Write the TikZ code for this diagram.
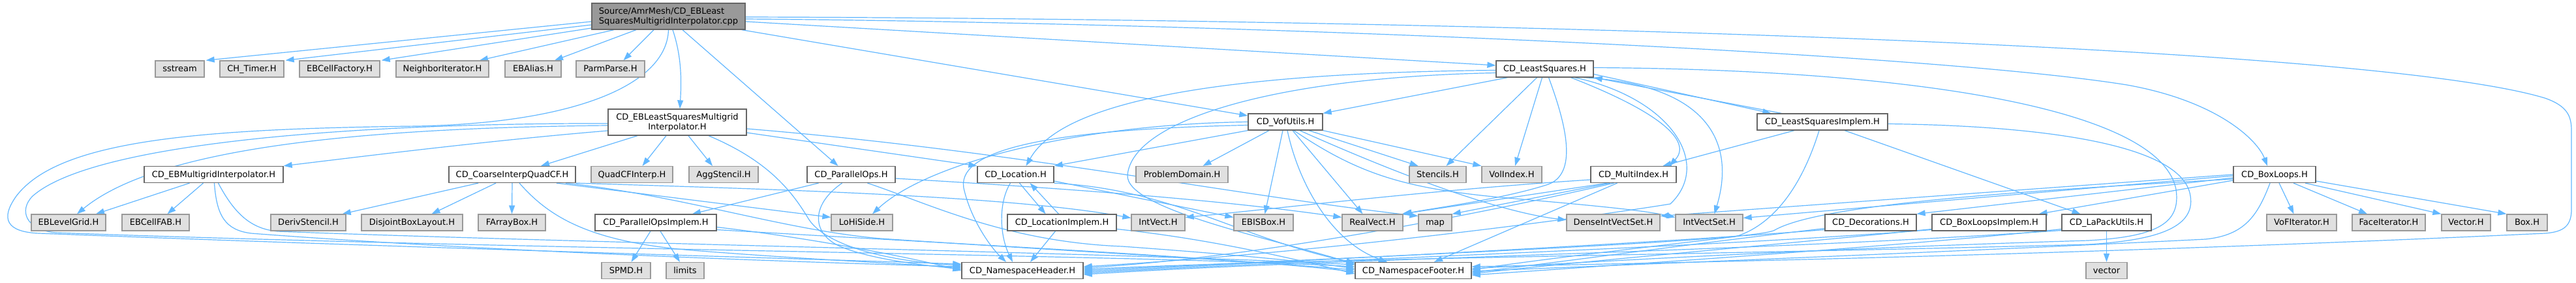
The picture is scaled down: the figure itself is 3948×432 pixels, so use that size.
\documentclass[tikz,border=0pt]{standalone}
\usepackage{fontspec}
\setmainfont{DejaVu Sans}
\usetikzlibrary{arrows.meta}
\definecolor{edgec}{HTML}{63B8FF}
\definecolor{wborder}{HTML}{666666}
\definecolor{gfill}{HTML}{E0E0E0}
\definecolor{gborder}{HTML}{999999}
\definecolor{mfill}{HTML}{999999}
\pgfdeclarelayer{edgelayer}
\pgfsetlayers{edgelayer,main}
\tikzset{
  base/.style={rectangle, inner sep=0pt, line width=1.3pt, font=\fontsize{13pt}{15pt}\selectfont, text=black},
  wn/.style={base, draw=wborder, fill=white},
  gn/.style={base, draw=gborder, fill=gfill},
  mn/.style={base, draw=wborder, fill=mfill},
  one/.style={minimum height=25pt, text height=9.5pt, text depth=1pt},
  e/.style={draw=edgec, line width=1.2pt, -{Triangle[length=13pt,width=9pt]}},
}
\newcommand\mkw[5]{\node[wn,one,minimum width=#4pt] (#1) at (#2,#3) {#5};}
\newcommand\mkg[5]{\node[gn,one,minimum width=#4pt] (#1) at (#2,#3) {#5};}
\begin{document}
\begin{tikzpicture}[x=1pt,y=-1pt]
\useasboundingbox (0,0) rectangle (3948,432);
% nodes
\node[mn, minimum width=235pt, minimum height=40pt, align=left] (M) at (1024.5,25) {Source/AmrMesh/CD\_EBLeast\\SquaresMultigridInterpolator.cpp};
\mkg{sstream}{275.5}{105.5}{75}{sstream}
\mkg{chtimer}{386}{105.5}{98}{CH\_Timer.H}
\mkg{ebcellfactory}{520.5}{105.5}{123}{EBCellFactory.H}
\mkg{neighbor}{678}{105.5}{142}{NeighborIterator.H}
\mkg{ebalias}{817}{105.5}{86}{EBAlias.H}
\mkg{parmparse}{935.5}{105.5}{105}{ParmParse.H}
\mkw{LS}{2367.5}{105.5}{149}{CD\_LeastSquares.H}
\node[wn, minimum width=212pt, minimum height=40pt, align=center] (ELS) at (1038,187) {CD\_EBLeastSquaresMultigrid\\Interpolator.H};
\mkw{VU}{1970}{186.5}{114}{CD\_VofUtils.H}
\mkw{LSI}{2793}{186.5}{200}{CD\_LeastSquaresImplem.H}
\mkw{EMI}{327.5}{267}{213}{CD\_EBMultigridInterpolator.H}
\mkw{CIQ}{785}{267}{194}{CD\_CoarseInterpQuadCF.H}
\mkg{quadcf}{968.5}{267}{125}{QuadCFInterp.H}
\mkg{aggst}{1109}{267}{106}{AggStencil.H}
\mkw{PO}{1304.5}{267}{135}{CD\_ParallelOps.H}
\mkw{LOC}{1556.5}{267}{117}{CD\_Location.H}
\mkg{probdom}{1811.5}{267}{141}{ProblemDomain.H}
\mkg{stencils}{2203.5}{267}{87}{Stencils.H}
\mkg{volindex}{2317}{267}{92}{VolIndex.H}
\mkw{MI}{2503.5}{267}{131}{CD\_MultiIndex.H}
\mkw{BL}{3486}{267}{126}{CD\_BoxLoops.H}
\mkg{eblevelgrid}{105}{340.5}{114}{EBLevelGrid.H}
\mkg{ebcellfab}{238.5}{340.5}{103}{EBCellFAB.H}
\mkg{derivst}{472.5}{340.5}{115}{DerivStencil.H}
\mkg{dbl}{631.5}{340.5}{155}{DisjointBoxLayout.H}
\mkg{farraybox}{784.5}{340.5}{103}{FArrayBox.H}
\mkw{POI}{1005}{340.5}{186}{CD\_ParallelOpsImplem.H}
\mkg{lohiside}{1321}{340.5}{94}{LoHiSide.H}
\mkw{LI}{1627.5}{340.5}{167}{CD\_LocationImplem.H}
\mkg{intvect}{1775}{340.5}{82}{IntVect.H}
\mkg{ebisbox}{1936.5}{340.5}{91}{EBISBox.H}
\mkg{realvect}{2103.5}{340.5}{93}{RealVect.H}
\mkg{map}{2199.5}{340.5}{51}{map}
\mkg{dense}{2472.5}{340.5}{143}{DenseIntVectSet.H}
\mkg{ivs}{2619.5}{340.5}{103}{IntVectSet.H}
\mkw{DEC}{2867}{340.5}{140}{CD\_Decorations.H}
\mkw{BLI}{3048.5}{340.5}{175}{CD\_BoxLoopsImplem.H}
\mkw{LAP}{3228.5}{340.5}{137}{CD\_LaPackUtils.H}
\mkg{vofit}{3527.5}{340.5}{107}{VoFIterator.H}
\mkg{faceit}{3661}{340.5}{112}{FaceIterator.H}
\mkg{vectorH}{3779.5}{340.5}{75}{Vector.H}
\mkg{boxH}{3873}{340.5}{62}{Box.H}
\mkg{spmd}{959.5}{414}{75}{SPMD.H}
\mkg{limits}{1050}{414}{58}{limits}
\mkw{HDR}{1567}{414}{186}{CD\_NamespaceHeader.H}
\mkw{FTR}{2166}{414}{178}{CD\_NamespaceFooter.H}
\mkg{vectorstd}{3228.5}{414}{63}{vector}
\begin{pgfonlayer}{edgelayer}
\fill[white] (0,0) rectangle (3948,432);
% main
\draw[e] ([yshift=-8pt]M.west) -- ([xshift=2pt]sstream.north east);
\draw[e] ([yshift=-13pt]M.west) -- ([xshift=2pt]chtimer.north east);
\draw[e] ([yshift=-18pt]M.west) -- ([xshift=2pt]ebcellfactory.north east);
\draw[e] ([xshift=-83.5pt]M.south) -- ([xshift=57pt]neighbor.north);
\draw[e] ([xshift=-49.5pt]M.south) -- ([xshift=33pt]ebalias.north);
\draw[e] ([xshift=-22.5pt]M.south) -- ([xshift=20pt]parmparse.north);
\draw[e] (M.south) .. controls (1022,130) and (880,188) .. (640,193) .. controls (300,197) and (90,215) .. (25,300) .. controls (0,335) and (10,355) .. (60,357) .. controls (600,378) and (1200,395) .. ([yshift=10pt]HDR.west);
\draw[e] ([xshift=6.5pt]M.south) .. controls (1046,90) and (1044,130) .. ([xshift=4pt]ELS.north);
\draw[e] ([xshift=21.5pt]M.south) -- ([xshift=-20pt]PO.north);
\draw[e] ([xshift=-6pt]M.south east) -- ([yshift=9.5pt]VU.west);
\draw[e] ([yshift=-8pt]M.east) -- ([yshift=5.5pt]LS.west);
\draw[e] ([yshift=-4pt]M.east) .. controls (1900,35) and (2950,80) .. (3260,130) .. controls (3400,155) and (3460,215) .. ([xshift=-11pt]BL.north);
\draw[e] ([yshift=-1pt]M.east) .. controls (2000,28) and (3600,60) .. (3900,150) .. controls (3935,162) and (3941,178) .. (3941,200) -- (3941,320) .. controls (3941,345) and (3930,355) .. (3900,357) .. controls (3300,385) and (2700,400) .. ([yshift=6pt]FTR.east);
% ELS
\draw[e] ([yshift=-5pt]ELS.west) .. controls (500,196) and (230,235) .. ([xshift=13pt]eblevelgrid.north);
\draw[e] ([yshift=-2pt]ELS.west) .. controls (600,188) and (150,212) .. (50,300) .. controls (28,322) and (40,352) .. (85,356) .. controls (800,382) and (1750,390) .. ([yshift=6pt]FTR.west);
\draw[e] ([yshift=-13pt]ELS.west) .. controls (750,215) and (550,240) .. (EMI.north east);
\draw[e] ([xshift=-61pt]ELS.south) -- ([xshift=44pt]CIQ.north);
\draw[e] ([xshift=-17pt]ELS.south) -- ([xshift=16pt]quadcf.north);
\draw[e] ([xshift=17pt]ELS.south) -- ([xshift=-17pt]aggst.north);
\draw[e] ([xshift=48pt]ELS.south) .. controls (1175,245) and (1212,290) .. (1238,333) .. controls (1262,375) and (1360,400) .. ([yshift=8pt]HDR.west);
\draw[e] ([yshift=-16pt]ELS.east) -- (LOC.north west);
\draw[e] ([yshift=-10pt]ELS.east) .. controls (1550,230) and (1900,300) .. ([yshift=10pt]map.west);
% EMI
\draw[e] ([xshift=-37pt]EMI.south) -- ([xshift=42pt]eblevelgrid.north);
\draw[e] ([xshift=-16pt]EMI.south) -- ([xshift=18pt]ebcellfab.north);
\draw[e] ([xshift=1pt]EMI.south) .. controls (332,330) and (345,352) .. (385,357) .. controls (750,385) and (1250,402) .. ([yshift=6pt]HDR.west);
\draw[e] ([xshift=7pt]EMI.south) .. controls (360,328) and (385,350) .. (425,354) .. controls (900,372) and (1750,388) .. ([yshift=9pt]FTR.west);
% CIQ
\draw[e] ([xshift=-52pt]CIQ.south) -- ([xshift=-6pt]derivst.north east);
\draw[e] ([xshift=-25pt]CIQ.south) -- ([xshift=30pt]dbl.north);
\draw[e] (CIQ.south) -- (farraybox.north);
\draw[e] ([xshift=11pt]CIQ.south) .. controls (840,330) and (900,370) .. (1061,383) .. controls (1250,398) and (1400,404) .. ([yshift=4pt]HDR.west);
\draw[e] ([xshift=68pt]CIQ.south) -- ([yshift=8pt]lohiside.west);
\draw[e] (CIQ.south east) .. controls (1200,290) and (1550,300) .. ([yshift=7pt]intvect.west);
\draw[e] ([xshift=82pt]CIQ.south) .. controls (1050,300) and (1200,352) .. (1350,365) .. controls (1650,385) and (1900,398) .. ([yshift=1pt]FTR.west);
% PO
\draw[e] ([xshift=-50pt]PO.south) -- ([xshift=56pt]POI.north);
\draw[e] ([xshift=-14pt]PO.south) .. controls (1240,315) and (1245,360) .. (1290,378) .. controls (1340,398) and (1420,406) .. ([yshift=2pt]HDR.west);
\draw[e] ([xshift=25pt]PO.south) .. controls (1420,310) and (1540,370) .. (1720,377) .. controls (1900,390) and (2000,400) .. ([yshift=3pt]FTR.west);
\draw[e] ([yshift=-6pt]PO.east) .. controls (1700,292) and (1900,310) .. ([yshift=8pt]realvect.west);
% POI
\draw[e] ([xshift=-8pt]POI.south) -- ([xshift=8pt]spmd.north);
\draw[e] ([xshift=7pt]POI.south) -- ([xshift=-8pt]limits.north);
\draw[e] ([yshift=-7pt]POI.east) .. controls (1250,365) and (1400,395) .. (HDR.west);
\draw[e] ([yshift=-11pt]POI.east) .. controls (1500,375) and (1900,395) .. ([yshift=-2pt]FTR.west);
% Location
\draw[e] ([xshift=-8pt]LOC.south) .. controls (1530,310) and (1532,360) .. ([xshift=-15pt]HDR.north);
\draw[e] ([xshift=6pt]LOC.south) -- ([xshift=-25pt]LI.north);
\draw[e] ([xshift=-5pt]LI.north) -- ([xshift=22pt]LOC.south);
\draw[e] ([yshift=-10pt]LOC.east) -- ([yshift=8pt]ebisbox.west);
\draw[e] (LOC.south east) .. controls (1800,290) and (1900,365) .. ([yshift=12pt]FTR.west);
% LI
\draw[e] ([xshift=-10pt]LI.south) -- ([xshift=12pt]HDR.north);
\draw[e] ([yshift=-10pt]LI.east) .. controls (1850,365) and (1980,395) .. ([yshift=-5pt]FTR.west);
% VU
\draw[e] (VU.west) .. controls (1650,190) and (1420,250) .. ([xshift=16pt]lohiside.north);
\draw[e] ([yshift=-5pt]VU.west) .. controls (1600,198) and (1460,230) .. (1478,292) .. controls (1490,340) and (1520,380) .. ([xshift=-25pt]HDR.north);
\draw[e] (VU.south west) -- (LOC.north east);
\draw[e] ([xshift=-25pt]VU.south) -- ([xshift=32pt]probdom.north);
\draw[e] ([xshift=-4pt]VU.south) -- ([xshift=2pt]ebisbox.north);
\draw[e] ([xshift=3pt]VU.south) .. controls (1990,280) and (2040,370) .. ([xshift=-40pt]FTR.north);
\draw[e] ([xshift=11pt]VU.south) -- ([xshift=-15pt]realvect.north);
\draw[e] ([xshift=13pt]VU.south) .. controls (2080,265) and (2150,288) .. (2300,302) .. controls (2450,315) and (2520,322) .. ([yshift=8pt]ivs.west);
\draw[e] ([xshift=22pt]VU.south) .. controls (2150,270) and (2300,325) .. ([yshift=4pt]dense.west);
\draw[e] ([xshift=36pt]VU.south) -- ([xshift=-30pt]stencils.north);
\draw[e] (VU.south east) -- (volindex.north west);
% LS
\draw[e] ([xshift=-57pt]LS.south) -- (VU.north east);
\draw[e] ([yshift=-2pt]LS.west) .. controls (1800,112) and (1620,170) .. ([xshift=16pt]LOC.north);
\draw[e] ([yshift=-6pt]LS.west) .. controls (1950,118) and (1735,185) .. (1728,268) .. controls (1725,320) and (1950,365) .. ([yshift=10pt]FTR.west);
\draw[e] ([xshift=-12pt]LS.south) -- ([xshift=13pt]stencils.north);
\draw[e] ([xshift=-4pt]LS.south) -- ([xshift=5pt]volindex.north);
\draw[e] ([xshift=6pt]LS.south) .. controls (2400,190) and (2420,268) .. (2370,283) .. controls (2300,305) and (2200,318) .. (realvect.north east);
\draw[e] ([xshift=40pt]LS.south) .. controls (2540,170) and (2595,215) .. ([xshift=55pt]MI.north);
\draw[e] ([xshift=46pt]LS.south) .. controls (2560,150) and (2625,250) .. (2560,312) .. controls (2450,330) and (2050,385) .. ([yshift=6pt]HDR.east);
\draw[e] ([xshift=60pt]LS.south) .. controls (2620,130) and (2660,220) .. ([xshift=8pt]ivs.north);
\draw[e] ([yshift=-8pt]LS.east) -- ([xshift=22pt]LSI.north west);
\draw[e] ([xshift=38pt]LSI.north west) -- (LS.south east);
\draw[e] ([yshift=2pt]LS.east) .. controls (2900,106) and (3310,160) .. (3335,290) .. controls (3342,340) and (3310,362) .. (3200,368) .. controls (2800,380) and (2450,400) .. ([yshift=3pt]FTR.east);
% MI
\draw[e] ([yshift=-8pt]MI.west) .. controls (2200,290) and (1950,320) .. ([yshift=8pt]intvect.east);
\draw[e] ([xshift=-40pt]MI.south) -- ([xshift=-2pt]realvect.north east);
\draw[e] ([xshift=-36pt]MI.south) -- (map.north east);
\draw[e] ([xshift=-30pt]MI.south) .. controls (2300,320) and (1950,392) .. ([yshift=4pt]HDR.east);
\draw[e] ([xshift=-25pt]MI.south) -- ([xshift=32pt]FTR.north);
% LSI
\draw[e] ([xshift=-43pt]LSI.south) -- ([xshift=45pt]MI.north);
\draw[e] ([xshift=34pt]LSI.south) -- ([xshift=-40pt]LAP.north);
\draw[e] ([xshift=-5pt]LSI.south) .. controls (2760,290) and (2715,345) .. (2660,362) .. controls (2550,375) and (2350,398) .. ([yshift=1pt]FTR.east);
\draw[e] ([yshift=-3pt]LSI.east) .. controls (3100,192) and (3345,215) .. (3357,300) .. controls (3365,350) and (3300,368) .. (3200,374) .. controls (2600,390) and (2000,396) .. ([yshift=2pt]HDR.east);
% BL
\draw[e] ([xshift=7pt]BL.south) -- ([xshift=-12pt]vofit.north);
\draw[e] ([xshift=29pt]BL.south) -- ([xshift=-33pt]faceit.north);
\draw[e] ([xshift=47pt]BL.south) -- (vectorH.north west);
\draw[e] ([yshift=-10pt]BL.east) -- (boxH.north west);
\draw[e] ([yshift=-5pt]BL.west) -- (DEC.north east);
\draw[e] ([yshift=-9pt]BL.west) -- ([xshift=-12pt]BLI.north east);
\draw[e] ([yshift=-2pt]BL.west) -- ([yshift=7pt]ivs.east);
\draw[e] (BL.west) -- ([yshift=10pt]dense.east);
\draw[e] ([yshift=-7pt]BL.west) .. controls (3100,292) and (2790,312) .. (2720,352) .. controls (2690,370) and (2100,392) .. (HDR.east);
\draw[e] ([xshift=-7pt]BL.south) .. controls (3460,330) and (3440,360) .. (3380,366) .. controls (3000,385) and (2500,405) .. ([yshift=-1pt]FTR.east);
% Decorations, BoxLoopsImplem, LaPack
\draw[e] ([yshift=-9pt]DEC.west) .. controls (2600,372) and (2400,400) .. ([yshift=-3pt]FTR.east);
\draw[e] ([yshift=-11pt]DEC.west) .. controls (2500,375) and (2000,398) .. ([yshift=-2pt]HDR.east);
\draw[e] ([yshift=-10pt]BLI.west) .. controls (2750,372) and (2400,402) .. ([yshift=-5pt]FTR.east);
\draw[e] ([yshift=-11pt]BLI.west) .. controls (2600,380) and (2000,398) .. ([yshift=-4pt]HDR.east);
\draw[e] (LAP.south) -- (vectorstd.north);
\draw[e] ([yshift=-10pt]LAP.west) .. controls (2900,378) and (2500,404) .. ([yshift=-7pt]FTR.east);
\draw[e] ([yshift=-12pt]LAP.west) .. controls (2700,385) and (2050,395) .. ([yshift=-6pt]HDR.east);
\end{pgfonlayer}
\end{tikzpicture}
\end{document}
